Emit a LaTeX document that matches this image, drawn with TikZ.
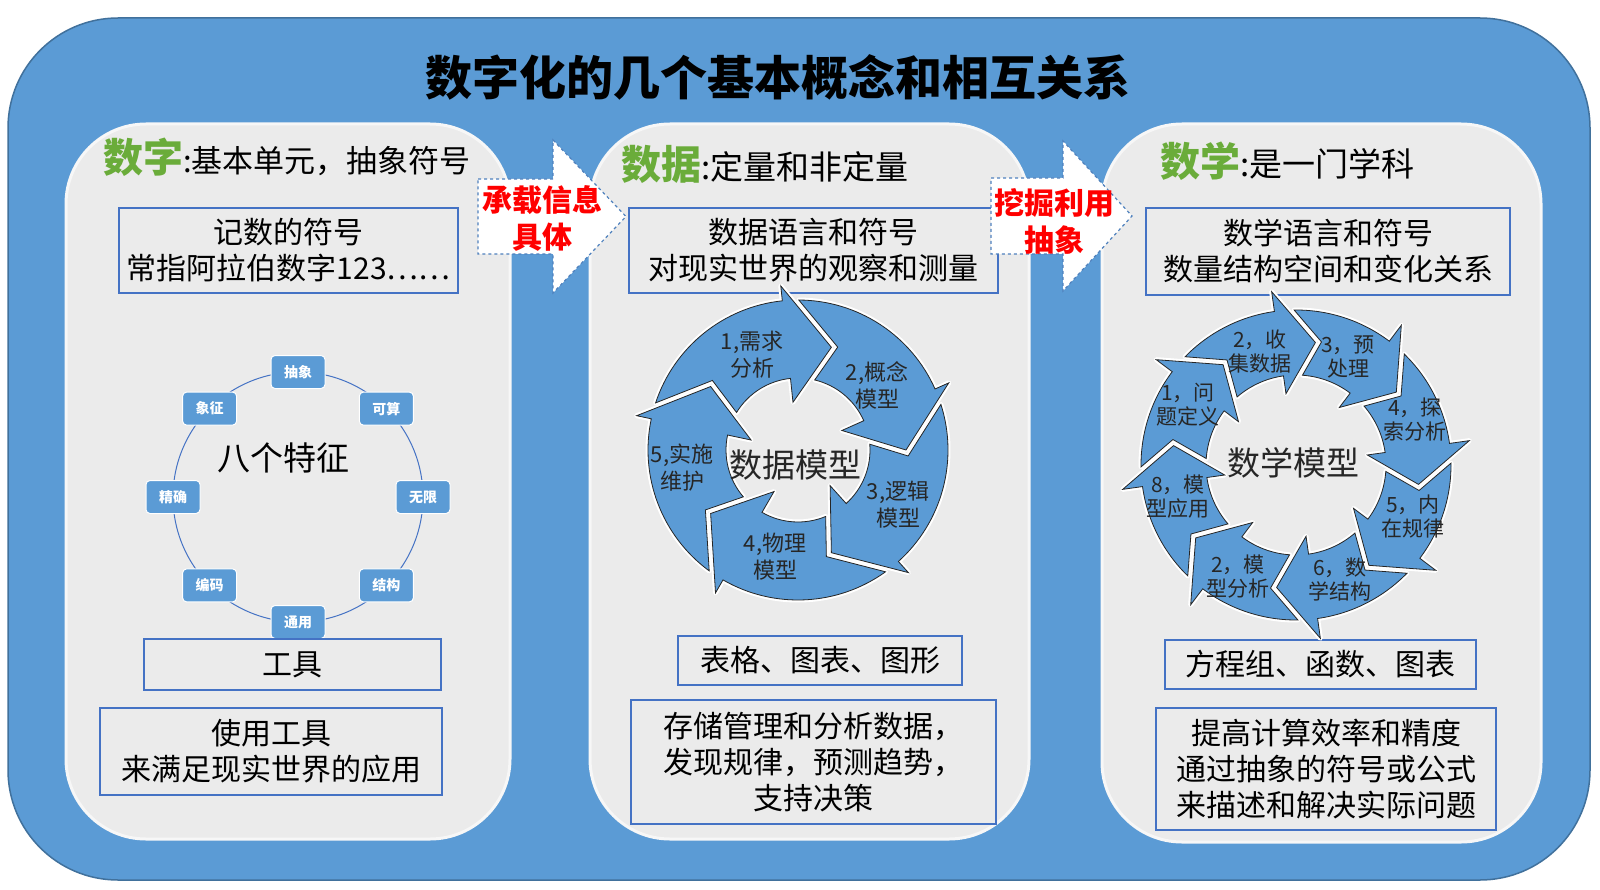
\documentclass[tikz,border=0pt]{standalone}
\usepackage{fontspec}
\setmainfont{Noto Sans CJK SC}
\usetikzlibrary{positioning}

\definecolor{bgblue}{RGB}{91,155,213}
\definecolor{rimblue}{RGB}{65,113,156}
\definecolor{boxblue}{RGB}{68,114,196}
\definecolor{panelgray}{RGB}{235,235,235}
\definecolor{panelrim}{RGB}{247,247,247}
\definecolor{numgreen}{RGB}{106,172,58}
\definecolor{flowrim}{RGB}{79,129,189}

\newcommand{\fsz}[2]{\fontsize{#1}{#2}\selectfont}

\begin{document}
\begin{tikzpicture}[
  x=1pt, y=-1pt,
  frame/.style={rectangle, rounded corners=110pt, fill=bgblue, draw=rimblue, line width=1.5pt},
  panel/.style={rectangle, rounded corners=80pt, fill=panelgray, draw=panelrim, line width=3pt},
  txtbox/.style={rectangle, draw=boxblue, line width=1.2pt, align=center, inner sep=0pt, font=\fsz{30}{36}},
  feat/.style={rectangle, rounded corners=4pt, fill=bgblue, draw=white, line width=1pt,
               minimum width=54pt, minimum height=33pt, text=white, font=\fsz{14}{16}\bfseries},
  ringline/.style={draw=boxblue, line width=1pt},
  cyc/.style={fill=bgblue, draw=black!85, line width=0.8pt,
              preaction={draw=white, line width=5pt, line join=round}},
  lab/.style={align=center, inner sep=0pt, text=black!85},
  flow/.style={fill=white, draw=flowrim, dashed, line width=1.2pt},
  flowtxt/.style={align=center, inner sep=0pt, text=red, font=\fsz{30}{37}\bfseries},
  head/.style={anchor=base west, inner sep=0pt},
]
  \useasboundingbox (0,0) rectangle (1600,890);
  \fill[white] (0,0) rectangle (1600,890);

  % frame and title
  \node[frame, minimum width=1582pt, minimum height=862pt] (frame) at (799,449) {};
  \node[font=\fsz{47}{52}\bfseries, inner sep=0pt] (title) at (778,77) {数字化的几个基本概念和相互关系};

  % panels
  \node[panel, minimum width=444pt, minimum height=715pt] (p1) at (288,481.5) {};
  \node[panel, minimum width=439pt, minimum height=715pt] (p2) at (809.5,481.5) {};
  \node[panel, minimum width=439pt, minimum height=718pt] (p3) at (1321.5,483) {};

  % panel 1: digits
  \node[head] (h1) at (103,173) {{\color{numgreen}\fsz{40}{44}\bfseries 数字}\fsz{31}{36}:基本单元，抽象符号};
  \node[txtbox, minimum width=339pt, minimum height=85pt] (numbox) at (288.5,250.5) {记数的符号\\常指阿拉伯数字123……};
  \begin{scope}[shift={(298,497)}, yscale=-1]
    \draw[ringline] (0,0) circle[radius=125];
    \foreach \a/\t/\n in {90/抽象/fa, 45/可算/fb, 0/无限/fc, -45/结构/fd,
                          -90/通用/fe, -135/编码/ff, 180/精确/fg, 135/象征/fh}
      \node[feat] (\n) at (\a:125) {\t};
  \end{scope}
  \node[font=\fsz{33}{38}, inner sep=0pt] (eight) at (283,458) {八个特征};
  \node[txtbox, minimum width=297pt, minimum height=51pt] (tool) at (292.5,664.5) {工具};
  \node[txtbox, minimum width=342pt, minimum height=87pt] (use) at (271,751.5) {使用工具\\来满足现实世界的应用};

  % panel 2: data
  \node[head] (h2) at (621,180) {{\color{numgreen}\fsz{40}{44}\bfseries 数据}\fsz{33}{36}:定量和非定量};
  \node[txtbox, minimum width=369pt, minimum height=85pt] (databox) at (813.5,250.5) {数据语言和符号\\对现实世界的观察和测量};
  \node[txtbox, minimum width=284pt, minimum height=49pt] (tab) at (820,660.5) {表格、图表、图形};
  \node[txtbox, minimum width=365pt, minimum height=124pt] (store) at (813.5,762) {存储管理和分析数据，\\发现规律，预测趋势，\\支持决策};

  % data model cycle
  \begin{scope}[shift={(798,450)}, yscale=-1]
    \foreach \b in {96,24,-48,-120,-192}
      \draw[cyc] ({\b+65.7}:150) arc[start angle=\b+65.7, end angle=\b, radius=150]
        -- (\b:165) -- ({\b-24}:108) -- (\b:48) -- (\b:72)
        arc[start angle=\b, end angle=\b+52.6, radius=72]
        -- ({\b+44.9}:110.3) -- cycle;
  \end{scope}
  \node[lab, font=\fsz{33}{38}] (dm) at (795,465) {数据模型};
  \node[lab, font=\fsz{22}{27}] (d1) at (752,355) {1,需求\\分析};
  \node[lab, font=\fsz{22}{27}] (d2) at (877,385) {2,概念\\模型};
  \node[lab, font=\fsz{22}{27}] (d3) at (898,505) {3,逻辑\\模型};
  \node[lab, font=\fsz{22}{27}] (d4) at (775,557) {4,物理\\模型};
  \node[lab, font=\fsz{22}{27}] (d5) at (682,468) {5,实施\\维护};

  % panel 3: mathematics
  \node[head] (h3) at (1160,177) {{\color{numgreen}\fsz{40}{44}\bfseries 数学}\fsz{33}{36}:是一门学科};
  \node[txtbox, minimum width=364pt, minimum height=87pt] (mathbox) at (1328,251.5) {数学语言和符号\\数量结构空间和变化关系};
  \node[txtbox, minimum width=311pt, minimum height=49pt] (eq) at (1320.5,664.5) {方程组、函数、图表};
  \node[txtbox, minimum width=340pt, minimum height=122pt] (impr) at (1326,769) {提高计算效率和精度\\通过抽象的符号或公式\\来描述和解决实际问题};

  % math model cycle
  \begin{scope}[shift={(1296,465)}, yscale=-1]
    \foreach \b in {143,98,53,8,-37,-82,-127,-172}
      \draw[cyc] ({\b+37.7}:155) arc[start angle=\b+37.7, end angle=\b, radius=155]
        -- (\b:175) -- ({\b-17}:124) -- (\b:72) -- (\b:90)
        arc[start angle=\b, end angle=\b+32.9, radius=90]
        -- ({\b+25.3}:125.7) -- cycle;
  \end{scope}
  \node[lab, font=\fsz{33}{38}] (mm) at (1293,463) {数学模型};
  \node[lab, font=\fsz{21}{24}] (m1) at (1188,405) {1，问\\题定义};
  \node[lab, font=\fsz{21}{24}] (m2) at (1260,352) {2，收\\集数据};
  \node[lab, font=\fsz{21}{24}] (m3) at (1348,357) {3，预\\处理};
  \node[lab, font=\fsz{21}{24}] (m4) at (1415,420) {4，探\\索分析};
  \node[lab, font=\fsz{21}{24}] (m5) at (1413,517) {5，内\\在规律};
  \node[lab, font=\fsz{21}{24}] (m6) at (1340,580) {6，数\\学结构};
  \node[lab, font=\fsz{21}{24}] (m7) at (1238,577) {2，模\\型分析};
  \node[lab, font=\fsz{21}{24}] (m8) at (1178,497) {8，模\\型应用};

  % block arrows between panels
  \draw[flow] (478,179) -- (553,179) -- (553,140) -- (626,216.5) -- (553,293) -- (553,254) -- (478,254) -- cycle;
  \node[flowtxt] (carry) at (542,218.5) {承载信息\\具体};
  \draw[flow] (991,178) -- (1063,178) -- (1063,141) -- (1132,216) -- (1063,291) -- (1063,254) -- (991,254) -- cycle;
  \node[flowtxt] (mine) at (1054,221.5) {挖掘利用\\抽象};
\end{tikzpicture}
\end{document}
